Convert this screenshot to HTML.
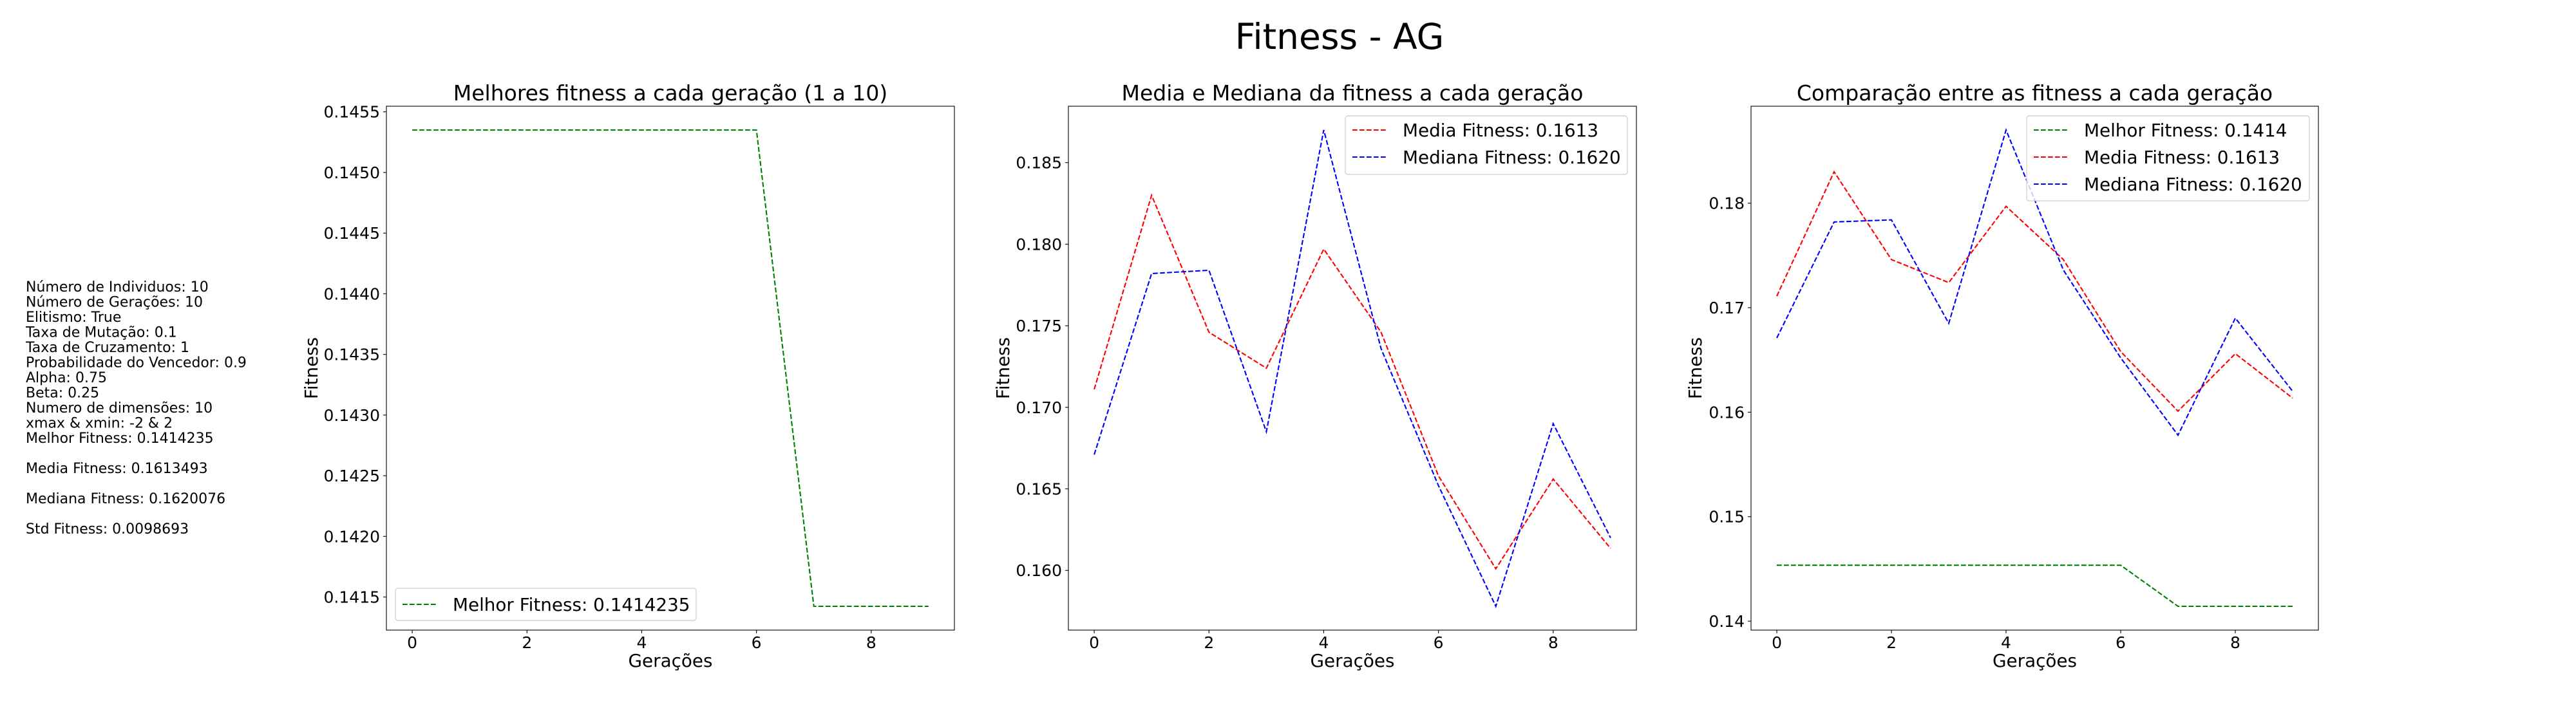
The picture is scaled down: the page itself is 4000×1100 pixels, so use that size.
<!DOCTYPE html>
<html><head><meta charset="utf-8"><style>
html,body{margin:0;padding:0;background:#fff;}
svg{display:block;font-family:"DejaVu Sans","Liberation Sans",sans-serif;}
</style></head><body>
<svg id="fig" width="4000" height="1100" viewBox="0 0 4000 1100" xmlns="http://www.w3.org/2000/svg">
<rect width="4000" height="1100" fill="#fff"/>
<text x="2080" y="76" font-size="55" text-anchor="middle">Fitness - AG</text>
<text x="40" y="453" font-size="22">
<tspan x="40" dy="0">Número de Individuos: 10</tspan>
<tspan x="40" dy="23.5">Número de Gerações: 10</tspan>
<tspan x="40" dy="23.5">Elitismo: True</tspan>
<tspan x="40" dy="23.5">Taxa de Mutação: 0.1</tspan>
<tspan x="40" dy="23.5">Taxa de Cruzamento: 1</tspan>
<tspan x="40" dy="23.5">Probabilidade do Vencedor: 0.9</tspan>
<tspan x="40" dy="23.5">Alpha: 0.75</tspan>
<tspan x="40" dy="23.5">Beta: 0.25</tspan>
<tspan x="40" dy="23.5">Numero de dimensões: 10</tspan>
<tspan x="40" dy="23.5">xmax &amp; xmin: -2 &amp; 2</tspan>
<tspan x="40" dy="23.5">Melhor Fitness: 0.1414235</tspan>
<tspan x="40" dy="47">Media Fitness: 0.1613493</tspan>
<tspan x="40" dy="47">Mediana Fitness: 0.1620076</tspan>
<tspan x="40" dy="47">Std Fitness: 0.0098693</tspan>
</text>
</svg>
<script>
const generations = [0,1,2,3,4,5,6,7,8,9];
const melhorValues = [0.14535,0.14535,0.14535,0.14535,0.14535,0.14535,0.14535,0.1414235,0.1414235,0.1414235];
const mediaValues = [0.1711,0.1830,0.1746,0.1724,0.1797,0.1746,0.1658,0.1601,0.1656,0.16135];
const medianaValues = [0.1671,0.1782,0.1784,0.1685,0.1870,0.1736,0.1652,0.1578,0.1690,0.1620];
const xTicks = [0,2,4,6,8];
const yTicks1 = [0.1415,0.1420,0.1425,0.1430,0.1435,0.1440,0.1445,0.1450,0.1455];
const yTicks2 = [0.160,0.165,0.170,0.175,0.180,0.185];
const yTicks3 = [0.14,0.15,0.16,0.17,0.18];
const titles = ["Melhores fitness a cada geração (1 a 10)","Media e Mediana da fitness a cada geração","Comparação entre as fitness a cada geração"];
const legend1 = ["Melhor Fitness: 0.1414235"];
const legend2 = ["Media Fitness: 0.1613","Mediana Fitness: 0.1620"];
const legend3 = ["Melhor Fitness: 0.1414","Media Fitness: 0.1613","Mediana Fitness: 0.1620"];

const NS="http://www.w3.org/2000/svg";
const fig=document.getElementById('fig');
function mk(tag,attrs,parent){const e=document.createElementNS(NS,tag);for(const k in attrs)e.setAttribute(k,attrs[k]);(parent||fig).appendChild(e);return e;}

const TOP=165,BOT=979;
function drawAxes(idx,left,right,series,yTicks,decimals,legendLabels,legendPos){
  const g=mk('g',{});
  
  
  let all=[];series.forEach(s=>all=all.concat(s.values));
  const mn=Math.min(...all),mx=Math.max(...all),m=(mx-mn)*0.05;
  const y0=mn-m,y1=mx+m;
  const xs=v=>left+(v+0.45)/9.9*(right-left);
  const ys=v=>BOT-(v-y0)/(y1-y0)*(BOT-TOP);
  const t=mk('text',{x:(left+right)/2,y:156,'font-size':33,'text-anchor':'middle'},g);t.textContent=titles[idx];
  
  
  xTicks.forEach(v=>{
    const x=xs(v);
    mk('line',{x1:x,x2:x,y1:BOT,y2:BOT+5,stroke:'#000','stroke-width':1.1},g);
    const tx=mk('text',{x:x,y:1007,'font-size':25,'text-anchor':'middle'},g);tx.textContent=v;
    
    
  });
  yTicks.forEach(v=>{
    const y=ys(v);
    mk('line',{x1:left-5,x2:left,y1:y,y2:y,stroke:'#000','stroke-width':1.1},g);
    const ty=mk('text',{x:left-10,y:y+9,'font-size':25,'text-anchor':'end'},g);ty.textContent=v.toFixed(decimals);
    
    
  });
  const xl=mk('text',{x:(left+right)/2,y:1036,'font-size':27.8,'text-anchor':'middle'},g);xl.textContent='Gerações';
  
  
  const yx=left-[107,92,77][idx];
  const yl=mk('text',{x:yx,y:(TOP+BOT)/2,'font-size':27.8,'text-anchor':'middle',transform:`rotate(-90 ${yx} ${(TOP+BOT)/2})`},g);yl.textContent='Fitness';
  
  
  series.forEach(s=>{
    const pts=generations.map((gx,i)=>xs(gx).toFixed(1)+','+ys(s.values[i]).toFixed(1)).join(' ');
    const p=mk('polyline',{points:pts,fill:'none',stroke:s.color,'stroke-width':2.1,'stroke-dasharray':'7.7 3.3'},g);
    
    
  });
  mk('rect',{x:left,y:TOP,width:right-left,height:BOT-TOP,fill:'none',stroke:'#000','stroke-width':1.1},g);
  const L=legendPos;
  const lg=mk('g',{},g);
  
  
  mk('rect',{x:L.x,y:L.y,width:L.w,height:L.h,rx:4,fill:'#fff','fill-opacity':0.8,stroke:'#ccc','stroke-width':1.2},lg);
  legendLabels.forEach((lab,i)=>{
    const cy=L.y+L.first+i*42;
    mk('line',{x1:L.x+11,x2:L.x+66,y1:cy,y2:cy,stroke:series[i].color,'stroke-width':2.1,'stroke-dasharray':'7.7 3.3'},lg);
    const te=mk('text',{x:L.x+89,y:cy+10,'font-size':27.8},lg);te.textContent=lab;
    
    
  });
}
drawAxes(0,600,1482,[{values:melhorValues,color:'#008000',name:'melhor-line'}],yTicks1,4,legend1,{x:614,y:914,w:467,h:50,first:25});
drawAxes(1,1659,2541,[{values:mediaValues,color:'#ff0000',name:'media-line'},{values:medianaValues,color:'#0000ff',name:'mediana-line'}],yTicks2,3,legend2,{x:2089,y:180,w:438,h:91,first:22});
drawAxes(2,2719,3600,[{values:melhorValues,color:'#008000',name:'melhor-line'},{values:mediaValues,color:'#ff0000',name:'media-line'},{values:medianaValues,color:'#0000ff',name:'mediana-line'}],yTicks3,2,legend3,{x:3147,y:180,w:439,h:132,first:22});
</script>
</body></html>
